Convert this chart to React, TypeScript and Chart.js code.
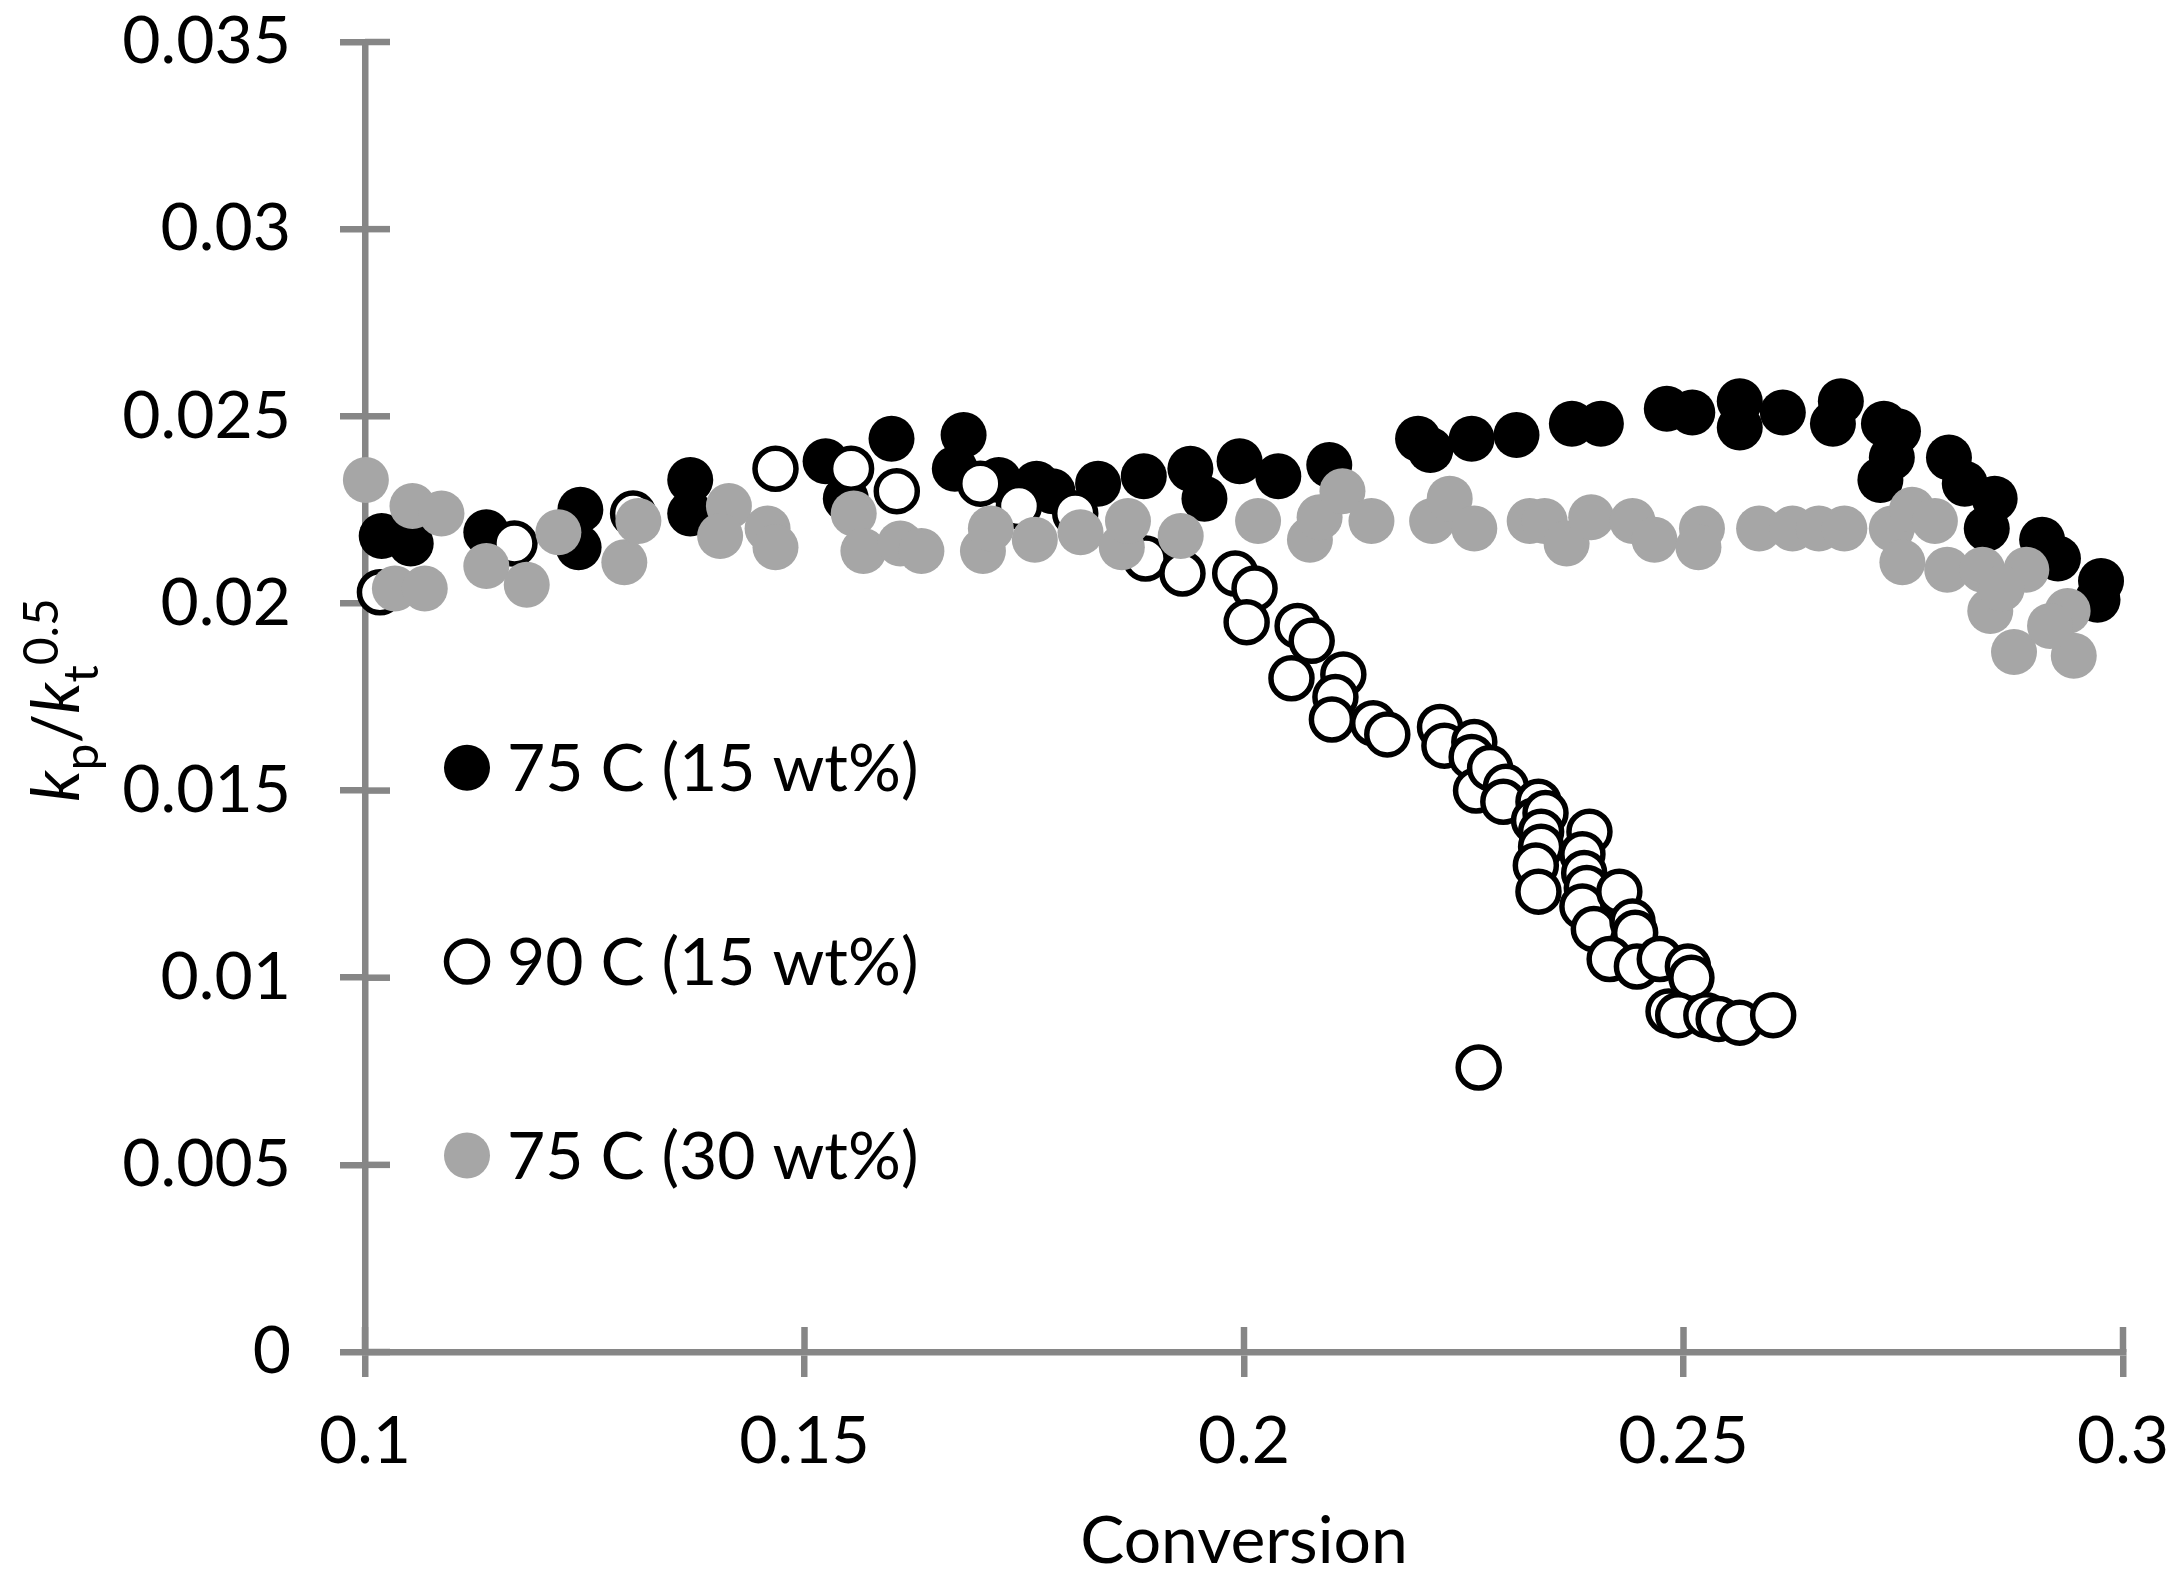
import { useEffect, useRef } from "react"
import { Chart, registerables, type ChartConfiguration, type Plugin } from "chart.js"

Chart.register(...registerables)

// axis ticks
const X_TICKS = [0.1, 0.15, 0.2, 0.25, 0.3]
const Y_TICKS = [0, 0.005, 0.01, 0.015, 0.02, 0.025, 0.03, 0.035]

const X_TITLE = "Conversion"
const SERIES_LABELS = ["75 C (15 wt%)", "90 C (15 wt%)", "75 C (30 wt%)"]

// [conversion, kp/kt^0.5]
const data75C15: [number, number][] = [
  [0.1019, 0.0218], [0.1052, 0.0216], [0.1138, 0.0219], [0.1245, 0.0225], [0.1243, 0.0215],
  [0.137, 0.0233], [0.137, 0.0224], [0.1524, 0.0238], [0.1547, 0.0228], [0.1599, 0.0244],
  [0.1681, 0.0245], [0.1671, 0.0236], [0.1721, 0.0233], [0.1764, 0.0232], [0.1782, 0.023],
  [0.1834, 0.0232], [0.1886, 0.0234], [0.1939, 0.0236], [0.1955, 0.0228], [0.1995, 0.0238],
  [0.2039, 0.0234], [0.2097, 0.0237], [0.2198, 0.0244], [0.2212, 0.0241], [0.2259, 0.0244],
  [0.231, 0.0245], [0.2373, 0.0248], [0.2406, 0.0248], [0.2481, 0.0252], [0.251, 0.0251],
  [0.2564, 0.0254], [0.2564, 0.0247], [0.2613, 0.0251], [0.2679, 0.0254], [0.267, 0.0248],
  [0.2728, 0.0248], [0.2744, 0.0246], [0.2724, 0.0233], [0.2737, 0.0239], [0.2802, 0.0239],
  [0.282, 0.0232], [0.2854, 0.0228], [0.2845, 0.022], [0.2908, 0.0217], [0.2926, 0.0212],
  [0.2975, 0.0206], [0.2971, 0.0201],
]

const data90C15: [number, number][] = [
  [0.1017, 0.0203], [0.117, 0.0216], [0.1305, 0.0224], [0.1467, 0.0236], [0.1553, 0.0236],
  [0.1605, 0.023], [0.17, 0.0232], [0.1744, 0.0226], [0.1808, 0.0224], [0.1888, 0.0212],
  [0.193, 0.0208], [0.199, 0.0208], [0.2012, 0.0204], [0.2003, 0.0195], [0.2061, 0.0194],
  [0.2077, 0.019], [0.2054, 0.018], [0.2113, 0.0181], [0.2104, 0.0175], [0.21, 0.0169],
  [0.2147, 0.0168], [0.2163, 0.0165], [0.2223, 0.0167], [0.2228, 0.0162], [0.2262, 0.0163],
  [0.2259, 0.0159], [0.2264, 0.015], [0.228, 0.0156], [0.2298, 0.0151], [0.2295, 0.0147],
  [0.2335, 0.0147], [0.233, 0.0142], [0.2343, 0.0144], [0.2338, 0.0139], [0.2338, 0.0135],
  [0.2332, 0.013], [0.2335, 0.0123], [0.2393, 0.0139], [0.2385, 0.0133], [0.2387, 0.0128],
  [0.239, 0.0124], [0.2385, 0.0119], [0.2398, 0.0113], [0.2427, 0.0123], [0.2442, 0.0115],
  [0.2445, 0.0112], [0.2416, 0.0105], [0.2447, 0.0103], [0.2473, 0.0105], [0.2505, 0.0103],
  [0.2509, 0.01], [0.2483, 0.0091], [0.2494, 0.009], [0.2526, 0.009], [0.254, 0.0089],
  [0.2564, 0.0088], [0.2602, 0.009], [0.2267, 0.0076],
]

const data75C30: [number, number][] = [
  [0.1001, 0.0233], [0.1054, 0.0226], [0.1087, 0.0224], [0.1034, 0.0204], [0.1068, 0.0204],
  [0.1138, 0.021], [0.1184, 0.0205], [0.122, 0.0219], [0.1295, 0.0211], [0.1311, 0.0222],
  [0.1414, 0.0226], [0.1404, 0.0218], [0.1458, 0.022], [0.1467, 0.0215], [0.1556, 0.0224],
  [0.1567, 0.0214], [0.1609, 0.0216], [0.1633, 0.0214], [0.1703, 0.0214], [0.1712, 0.022],
  [0.1762, 0.0217], [0.1814, 0.0219], [0.1861, 0.0215], [0.1868, 0.0222], [0.1928, 0.0218],
  [0.2016, 0.0222], [0.2075, 0.0217], [0.2086, 0.0223], [0.2112, 0.023], [0.2145, 0.0222],
  [0.2214, 0.0222], [0.2234, 0.0228], [0.2262, 0.022], [0.2325, 0.0222], [0.2342, 0.0222],
  [0.2367, 0.0216], [0.2395, 0.0223], [0.2442, 0.0222], [0.2467, 0.0217], [0.2521, 0.022],
  [0.2517, 0.0215], [0.2586, 0.022], [0.2624, 0.022], [0.2654, 0.022], [0.2683, 0.022],
  [0.2737, 0.022], [0.276, 0.0225], [0.2786, 0.0222], [0.2749, 0.0211], [0.28, 0.0209],
  [0.284, 0.0209], [0.289, 0.0209], [0.2849, 0.0198], [0.2937, 0.0198], [0.2876, 0.0187],
  [0.2944, 0.0186], [0.2862, 0.0204], [0.2917, 0.0194],
]

const AXIS_GREY = "#868686"
const FONT = "Lato"
const FONT_SIZE = 66

const toPoints = (rows: [number, number][]) => rows.map(([x, y]) => ({ x, y }))

// keep the plot area where the padding puts it (labels may overhang)
const noLabelMargins = (scale: any) => {
  scale.paddingTop = 0
  scale.paddingBottom = 0
  scale.paddingLeft = 0
  scale.paddingRight = 0
}

// tick marks that cross the axis line (the inner half)
const innerTicks: Plugin<"scatter"> = {
  id: "innerTicks",
  beforeDatasetsDraw(chart) {
    const { ctx, chartArea, scales } = chart
    ctx.save()
    ctx.strokeStyle = AXIS_GREY
    ctx.lineWidth = 6.5
    for (const t of scales.y.ticks) {
      const py = scales.y.getPixelForValue(t.value)
      ctx.beginPath()
      ctx.moveTo(chartArea.left, py)
      ctx.lineTo(chartArea.left + 25, py)
      ctx.stroke()
    }
    for (const t of scales.x.ticks) {
      const px = scales.x.getPixelForValue(t.value)
      ctx.beginPath()
      ctx.moveTo(px, chartArea.bottom)
      ctx.lineTo(px, chartArea.bottom - 25)
      ctx.stroke()
    }
    ctx.restore()
  },
}

// y title with italic k, subscripts and superscript
const yTitle: Plugin<"scatter"> = {
  id: "yTitle",
  afterDraw(chart) {
    const { ctx } = chart
    const parts = [
      { t: "k", font: `italic ${FONT_SIZE}px ${FONT}`, dy: 0 },
      { t: "p", font: `48px ${FONT}`, dy: 19 },
      { t: "/", font: `${FONT_SIZE}px ${FONT}`, dy: 0 },
      { t: "k", font: `italic ${FONT_SIZE}px ${FONT}`, dy: 0 },
      { t: "t", font: `48px ${FONT}`, dy: 19 },
      { t: "0.5", font: `48px ${FONT}`, dy: -21 },
    ]
    ctx.save()
    let total = 0
    const widths = parts.map((p) => {
      ctx.font = p.font
      const w = ctx.measureText(p.t).width
      total += w
      return w
    })
    ctx.translate(79, 700)
    ctx.rotate(-Math.PI / 2)
    ctx.fillStyle = "#000"
    ctx.textBaseline = "alphabetic"
    ctx.textAlign = "left"
    let x = -total / 2
    parts.forEach((p, i) => {
      ctx.font = p.font
      ctx.fillText(p.t, x, p.dy)
      x += widths[i]
    })
    ctx.restore()
  },
}

// legend inside the plot area, rows spread down the left side
const LEGEND_ROWS = [0.554, 0.702, 0.85]
const insideLegend: Plugin<"scatter"> = {
  id: "insideLegend",
  afterDraw(chart) {
    const { ctx, chartArea } = chart
    const h = chartArea.bottom - chartArea.top
    ctx.save()
    chart.data.datasets.forEach((ds: any, i) => {
      const cy = chartArea.top + LEGEND_ROWS[i] * h
      const cx = chartArea.left + 102
      ctx.beginPath()
      ctx.arc(cx, cy, ds.pointRadius, 0, Math.PI * 2)
      ctx.fillStyle = ds.backgroundColor
      ctx.fill()
      if (ds.borderWidth > 0) {
        ctx.lineWidth = ds.borderWidth
        ctx.strokeStyle = ds.borderColor
        ctx.stroke()
      }
      ctx.font = `${FONT_SIZE}px ${FONT}`
      ctx.fillStyle = "#000"
      ctx.textBaseline = "middle"
      ctx.textAlign = "left"
      ctx.fillText(ds.label, chartArea.left + 142, cy + 2)
    })
    ctx.restore()
  },
}

function KineticsChart() {
  const chartRef = useRef<HTMLCanvasElement>(null)
  const chartInstance = useRef<Chart | null>(null)

  useEffect(() => {
    if (!chartRef.current) return
    const ctx = chartRef.current.getContext("2d")
    if (!ctx) return

    if (chartInstance.current) {
      chartInstance.current.destroy()
    }

    Chart.defaults.font.family = FONT

    const config: ChartConfiguration<"scatter"> = {
      type: "scatter",
      data: {
        datasets: [
          {
            label: SERIES_LABELS[0],
            data: toPoints(data75C15),
            pointRadius: 23,
            backgroundColor: "#000000",
            borderColor: "#000000",
            borderWidth: 0,
            order: 3,
            clip: false,
          },
          {
            label: SERIES_LABELS[1],
            data: toPoints(data90C15),
            pointRadius: 20.5,
            backgroundColor: "#ffffff",
            borderColor: "#000000",
            borderWidth: 5.5,
            order: 2,
            clip: false,
          },
          {
            label: SERIES_LABELS[2],
            data: toPoints(data75C30),
            pointRadius: 23,
            backgroundColor: "#a6a6a6",
            borderColor: "#a6a6a6",
            borderWidth: 0,
            order: 1,
            clip: false,
          },
        ],
      },
      options: {
        animation: false,
        responsive: true,
        maintainAspectRatio: false,
        events: [],
        layout: {
          padding: { top: 42, right: 59, left: 0, bottom: 0 },
        },
        scales: {
          x: {
            type: "linear",
            min: 0.1,
            max: 0.3,
            afterBuildTicks: (scale) => {
              scale.ticks = X_TICKS.map((value) => ({ value }))
            },
            afterFit: (scale) => {
              scale.height = 241
              noLabelMargins(scale)
            },
            grid: {
              drawOnChartArea: false,
              drawTicks: true,
              tickLength: 25,
              color: AXIS_GREY,
              lineWidth: 6.5,
            },
            border: { display: true, color: AXIS_GREY, width: 6.5 },
            ticks: {
              color: "#000",
              font: { size: FONT_SIZE, family: FONT },
              padding: 25,
              maxRotation: 0,
              callback: (value) => String(value),
            },
            title: {
              display: true,
              text: X_TITLE,
              color: "#000",
              font: { size: FONT_SIZE, family: FONT },
              padding: { top: 0, bottom: 12 },
            },
          },
          y: {
            type: "linear",
            min: 0,
            max: 0.035,
            afterBuildTicks: (scale) => {
              scale.ticks = Y_TICKS.map((value) => ({ value }))
            },
            afterFit: (scale) => {
              scale.width = 365
              noLabelMargins(scale)
            },
            grid: {
              drawOnChartArea: false,
              drawTicks: true,
              tickLength: 25,
              color: AXIS_GREY,
              lineWidth: 6.5,
            },
            border: { display: true, color: AXIS_GREY, width: 6.5 },
            ticks: {
              color: "#000",
              font: { size: FONT_SIZE, family: FONT },
              padding: 49,
              callback: (value) => String(value),
            },
          },
        },
        plugins: {
          legend: { display: false },
          tooltip: { enabled: false },
          title: { display: false },
        },
      },
      plugins: [innerTicks, yTitle, insideLegend],
    }

    chartInstance.current = new Chart(ctx, config)

    return () => {
      if (chartInstance.current) {
        chartInstance.current.destroy()
        chartInstance.current = null
      }
    }
  }, [])

  return <canvas ref={chartRef} />
}

export default function App() {
  return (
    <div style={{ position: "fixed", left: 0, top: 0, width: 2182, height: 1593, background: "#fff" }}>
      <KineticsChart />
    </div>
  )
}
